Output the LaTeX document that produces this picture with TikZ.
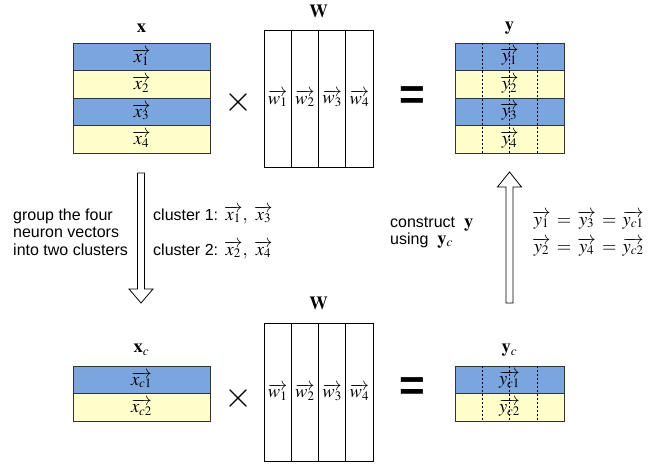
\documentclass[tikz,border=0pt]{standalone}
\usepackage{mathptmx}
\usepackage[no-math]{fontspec}
\setmainfont{Liberation Serif}
\setsansfont{Liberation Sans}
\DeclareMathSizes{16}{18.5}{13}{10}
\definecolor{rowblue}{RGB}{123,165,222}
\definecolor{rowyellow}{RGB}{255,255,204}
\begin{document}
\begin{tikzpicture}[x=1pt, y=-1pt,
			every node/.style={font=\fontsize{16}{17.5}\selectfont},
			row/.style={draw=black!80, line width=0.9pt, minimum width=137pt, minimum height=27.5pt, inner sep=0pt},
			short row/.style={row, minimum width=109pt},
			col/.style={draw, line width=0.8pt, minimum width=27.25pt, minimum height=137pt, inner sep=0pt},
			sign/.style={font=\fontsize{36}{36}\selectfont, inner sep=0pt},
			equal/.style={font=\sffamily\bfseries\fontsize{44}{44}\selectfont, inner sep=0pt},
			note/.style={font=\sffamily\fontsize{16}{17.5}\selectfont, align=left, inner sep=0pt},
			sep line/.style={line width=0.5pt, dash pattern=on 2pt off 2pt},
			block arrow/.style={draw, line width=0.8pt, fill=white, line join=miter}]
			\useasboundingbox (0,0) rectangle (667,464);
			
			\foreach \i/\c in {1/rowblue,2/rowyellow,3/rowblue,4/rowyellow}{
			  \node[row, fill=\c] (x\i) at (141.5, 29.25+27.5*\i) {$\overrightarrow{x_{\i}}$};
			  \node[short row, fill=\c] (y\i) at (509.5, 29.25+27.5*\i) {$\overrightarrow{y_{\i}}$};
			}
			\foreach \i/\c in {1/rowblue,2/rowyellow}{
			  \node[row, fill=\c] (xc\i) at (141.5, 352.25+27.5*\i) {$\overrightarrow{x_{c\i}}$};
			  \node[short row, fill=\c] (yc\i) at (509.5, 352.25+27.5*\i) {$\overrightarrow{y_{c\i}}$};
			}
			\foreach \i in {1,...,4}{
			  \node[col] (wa\i) at (250.375+27.25*\i, 98.5) {$\overrightarrow{w_{\i}}$};
			  \node[col, minimum height=138pt] (wb\i) at (250.375+27.25*\i, 392) {$\overrightarrow{w_{\i}}$};
			}
			\foreach \d in {-27.5,0,27.5}{
			  \draw[sep line] ([xshift=\d pt]y1.north) -- ([xshift=\d pt]y4.south);
			  \draw[sep line] ([xshift=\d pt]yc1.north) -- ([xshift=\d pt]yc2.south);
			}
			
			\node (xlabel) at (141.5,28) {$\mathbf{x}$};
			\node (ylabel) at (509.5,28) {$\mathbf{y}$};
			\node (walabel) at (318.5,11) {$\mathbf{W}$};
			\node (xclabel) at (141.5,350) {$\mathbf{x}_c$};
			\node (yclabel) at (509.5,350) {$\mathbf{y}_c$};
			\node (wblabel) at (318.5,303) {$\mathbf{W}$};
			
			\node[sign] (timesa) at (238.5,102.5) {$\times$};
			\node[sign] (timesb) at (238.5,398) {$\times$};
			\node[equal] (eqa) at (412,98) {=};
			\node[equal] (eqb) at (412,389.5) {=};
			
			\draw[block arrow] (137.5,173) -- (144.5,173) -- (144.5,289) -- (153,289) -- (141,303) -- (129,289) -- (137.5,289) -- cycle;
			\draw[block arrow] (506,303) -- (513,303) -- (513,187) -- (521.5,187) -- (509.5,172) -- (497.5,187) -- (506,187) -- cycle;
			
			\node[note, anchor=base west] (group) at (13,255) {group the four\\neuron vectors\\into two clusters};
			\node[note, anchor=base west] (clustera) at (153,220) {cluster 1: $\overrightarrow{x_1},\ \overrightarrow{x_3}$};
			\node[note, anchor=base west] (clusterb) at (153,255) {cluster 2: $\overrightarrow{x_2},\ \overrightarrow{x_4}$};
			\node[note, anchor=base west, font=\sffamily\fontsize{16}{17}\selectfont] (construct) at (390,244) {construct\ \ $\mathbf{y}$\\using\ \ $\mathbf{y}_c$};
			\node[note, anchor=base west] (eqya) at (532,225) {$\overrightarrow{y_1} \,=\, \overrightarrow{y_3} \,=\, \overrightarrow{y_{c1}}$};
			\node[note, anchor=base west] (eqyb) at (532,252) {$\overrightarrow{y_2} \,=\, \overrightarrow{y_4} \,=\, \overrightarrow{y_{c2}}$};
		\end{tikzpicture}
\end{document}
